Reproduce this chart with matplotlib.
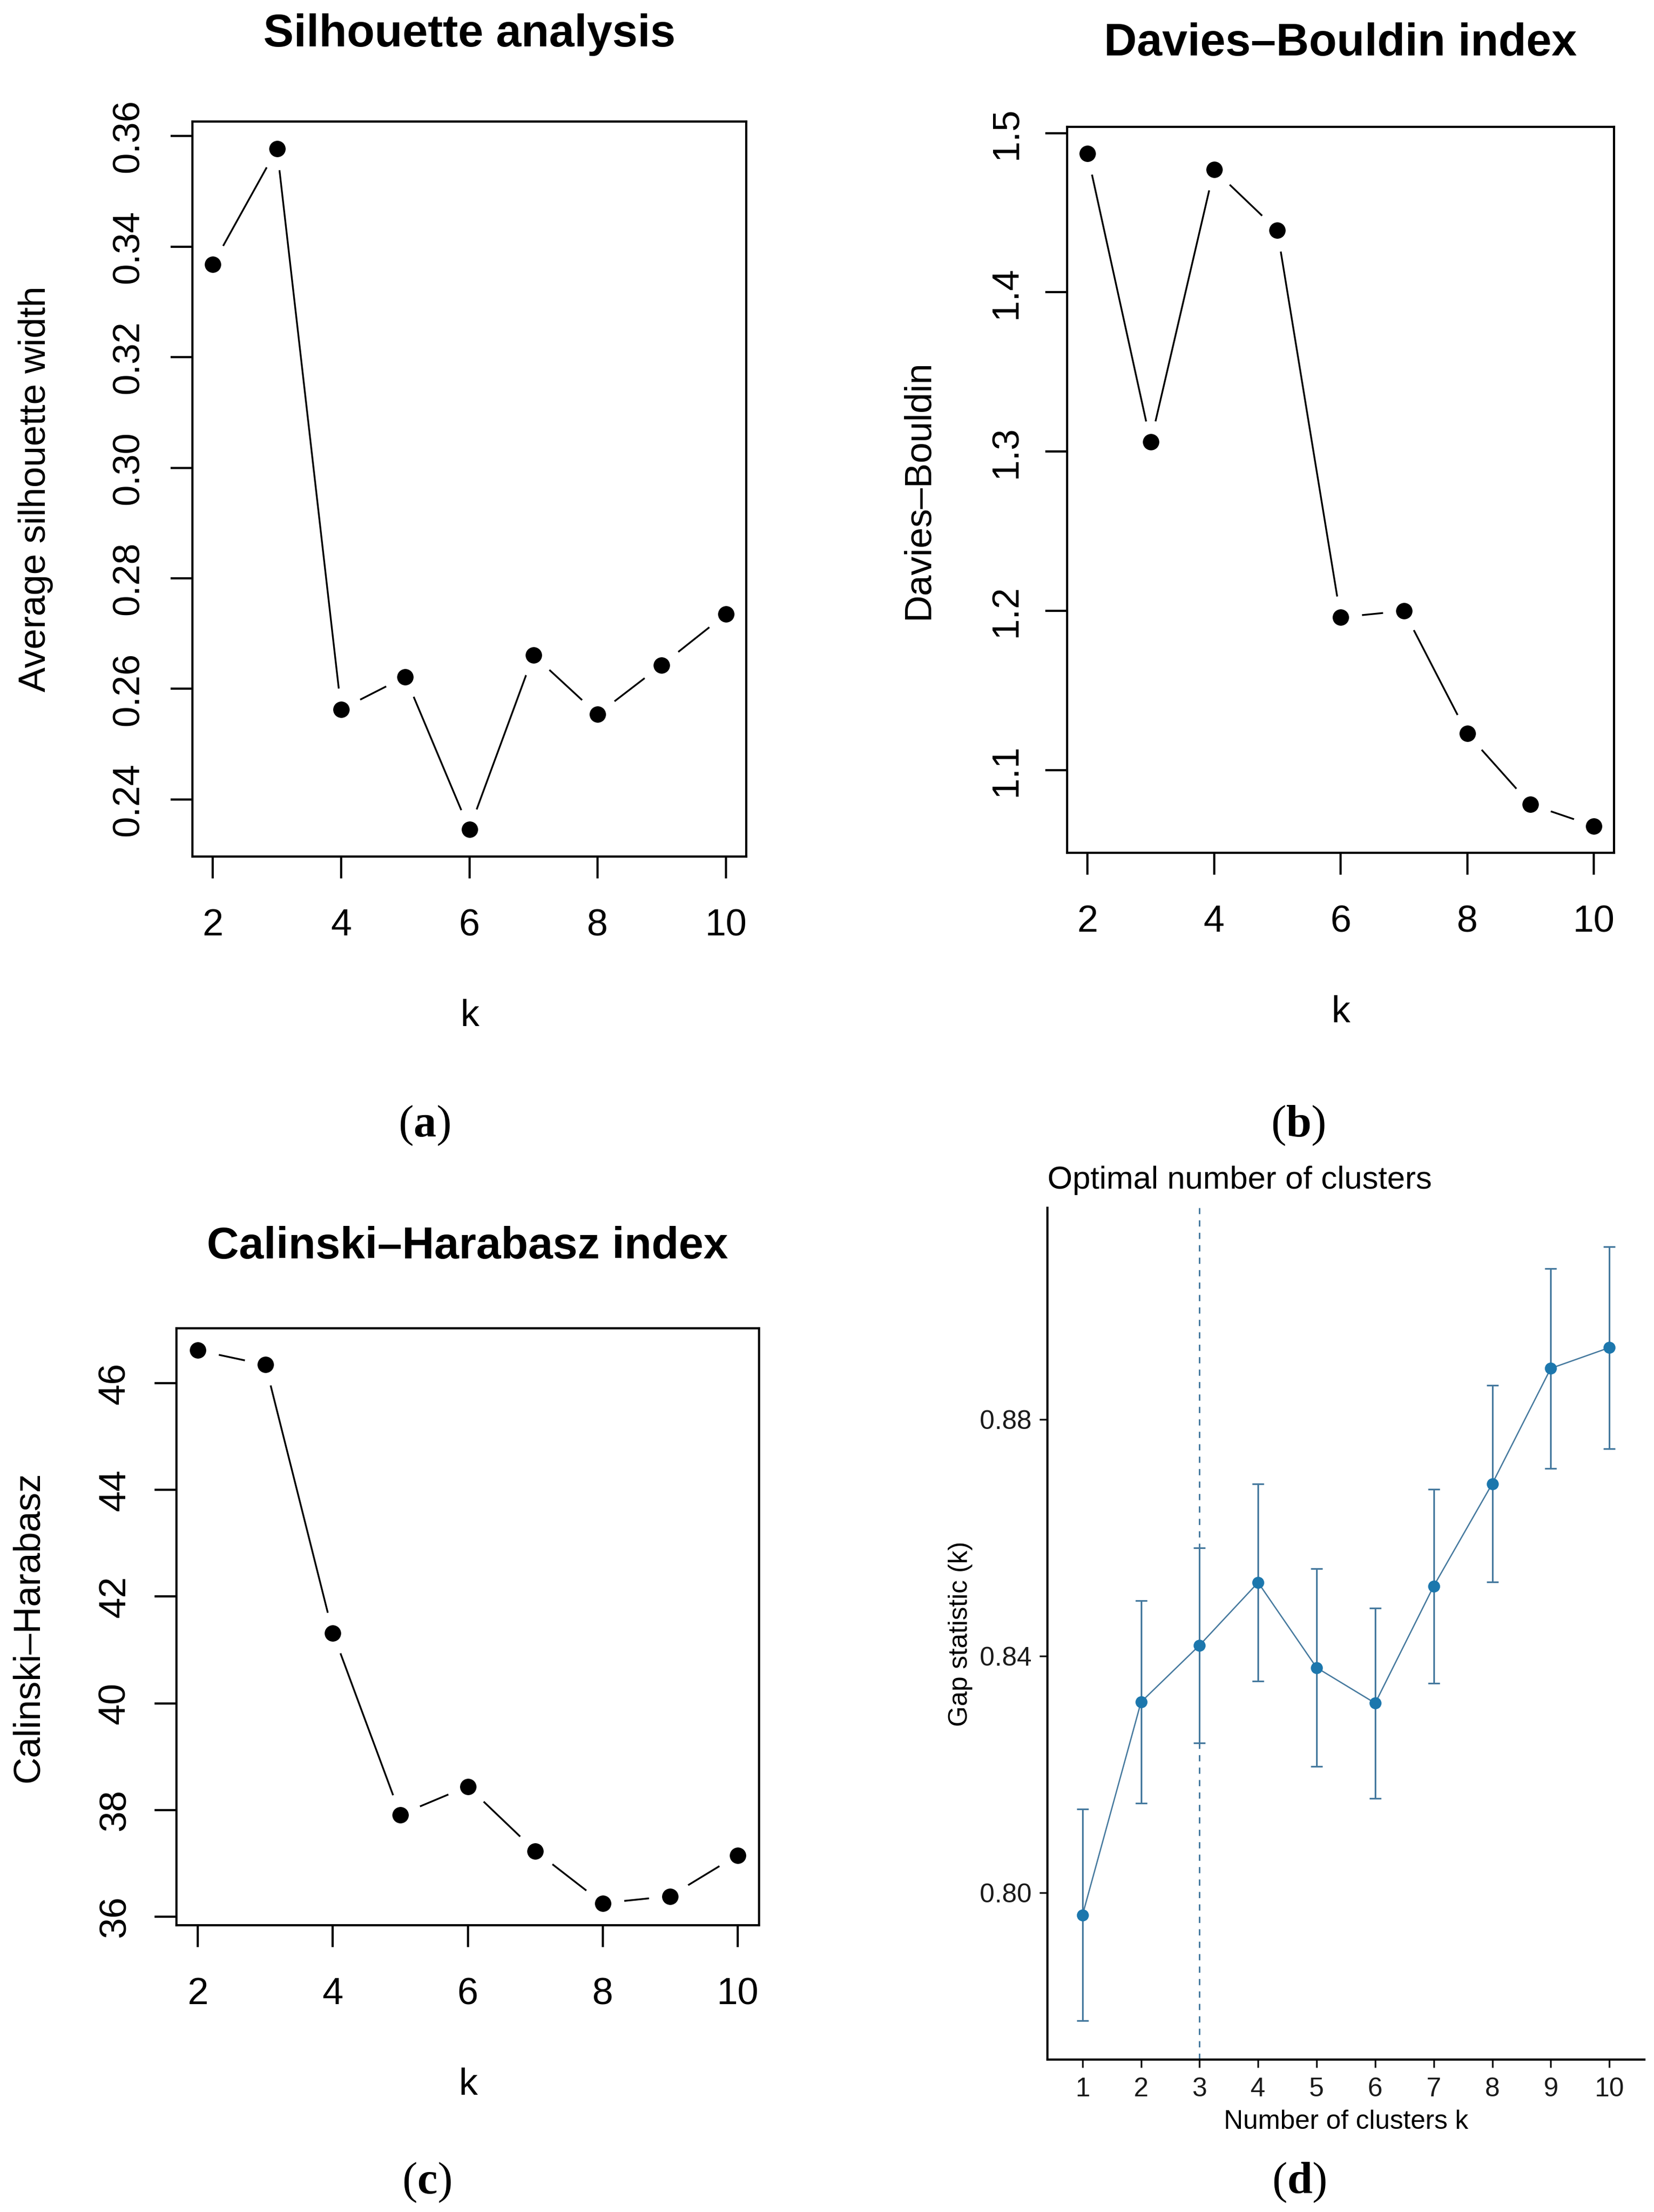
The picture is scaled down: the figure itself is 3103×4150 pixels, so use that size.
import matplotlib
matplotlib.use('Agg')
import matplotlib.pyplot as plt
from matplotlib.ticker import FormatStrFormatter

plt.rcParams['font.family'] = ['Liberation Sans', 'DejaVu Sans']
plt.rcParams['mathtext.fontset'] = 'custom'
plt.rcParams['mathtext.rm'] = 'Liberation Serif'
plt.rcParams['mathtext.bf'] = 'Liberation Serif:bold'

# data
k_values = [2, 3, 4, 5, 6, 7, 8, 9, 10]
silhouette = [0.3368, 0.3577, 0.2563, 0.2622, 0.2346, 0.2661, 0.2554, 0.2643, 0.2735]
davies_bouldin = [1.487, 1.306, 1.477, 1.439, 1.196, 1.200, 1.123, 1.0785, 1.065]
calinski = [46.62, 46.35, 41.32, 37.91, 38.44, 37.23, 36.25, 36.38, 37.15]

k_gap = [1, 2, 3, 4, 5, 6, 7, 8, 9, 10]
gap_stat = [0.7962, 0.8322, 0.8418, 0.8524, 0.8380, 0.8320, 0.8518, 0.8691, 0.8886, 0.8921]
gap_se = [0.0179, 0.0171, 0.0165, 0.0167, 0.0167, 0.0161, 0.0164, 0.0166, 0.0169, 0.0171]
k_optimal = 3

W, H = 3103, 4150
fig = plt.figure(figsize=(W / 300, H / 300), dpi=300)


def rect(left, right, top, bottom):
    return [left / W, 1 - bottom / H, (right - left) / W, (bottom - top) / H]


def r_panel(box, x, y, yticks, yfmt, title, title_y, title_size, ylabel, ypad, ylabelpad):
    ax = fig.add_axes(rect(*box))
    # type="b" look: black dot with white halo that cuts the line
    ax.plot(x, y, color='black', lw=0.8, marker='o', ms=13.3,
            mfc='black', mec='white', mew=5.9)
    dx = (max(x) - min(x)) * 0.04
    dy = (max(y) - min(y)) * 0.04
    ax.set_xlim(min(x) - dx, max(x) + dx)
    ax.set_ylim(min(y) - dy, max(y) + dy)
    ax.set_xticks([2, 4, 6, 8, 10])
    ax.set_yticks(yticks)
    ax.yaxis.set_major_formatter(FormatStrFormatter(yfmt))
    ax.tick_params(length=9.8, width=1.0, labelsize=17, direction='out')
    ax.tick_params(axis='x', pad=13.5)
    ax.tick_params(axis='y', pad=ypad)
    for lab in ax.get_yticklabels():
        lab.set_rotation(90)
        lab.set_va('center')
    for s in ax.spines.values():
        s.set_linewidth(1.0)
    ax.set_xlabel('k', fontsize=17, labelpad=25)
    ax.set_ylabel(ylabel, fontsize=16.8, labelpad=ylabelpad)
    xc = (box[0] + box[1]) / 2
    fig.text(xc / W, 1 - title_y / H, title, fontsize=title_size,
             fontweight='bold', ha='center', va='baseline')
    return ax


r_panel((361, 1400, 228, 1607), k_values, silhouette,
        [0.24, 0.26, 0.28, 0.30, 0.32, 0.34, 0.36], '%.2f',
        'Silhouette analysis', 87, 20.5, 'Average silhouette width', 11, 26)
r_panel((2002, 3028, 238, 1600), k_values, davies_bouldin,
        [1.1, 1.2, 1.3, 1.4, 1.5], '%.1f',
        'Davies\u2013Bouldin index', 104, 20.5, 'Davies\u2013Bouldin', 9.4, 23.8)
r_panel((331, 1424, 2492, 3612), k_values, calinski,
        [36, 38, 40, 42, 44, 46], '%d',
        'Calinski\u2013Harabasz index', 2361, 20, 'Calinski\u2013Harabasz', 9.8, 23)

# gap statistic panel (ggplot style)
line_c = '#45799E'
pt_c = '#1C77AD'
ax = fig.add_axes(rect(1965, 3085, 2266, 3864))
ax.errorbar(k_gap, gap_stat, yerr=gap_se, color=line_c, lw=0.6,
            ecolor=line_c, elinewidth=0.75, capsize=2.6, capthick=0.75,
            marker='o', ms=4.4, mfc=pt_c, mec=pt_c)
ax.axvline(k_optimal, color=line_c, lw=0.7, ls=(0, (4, 4)))
lo = min(g - s for g, s in zip(gap_stat, gap_se))
hi = max(g + s for g, s in zip(gap_stat, gap_se))
ax.set_ylim(lo - 0.05 * (hi - lo), hi + 0.05 * (hi - lo))
ax.set_xlim(0.4, 10.6)
ax.set_xticks(k_gap)
ax.set_yticks([0.80, 0.84, 0.88])
ax.yaxis.set_major_formatter(FormatStrFormatter('%.2f'))
ax.spines['top'].set_visible(False)
ax.spines['right'].set_visible(False)
for s in ('left', 'bottom'):
    ax.spines[s].set_linewidth(1.0)
ax.tick_params(length=3.6, width=0.8, labelsize=12, colors='#1a1a1a')
ax.tick_params(axis='y', pad=3.6)
ax.tick_params(axis='x', pad=4.3)
ax.set_xlabel('Number of clusters k', fontsize=12, labelpad=3.6)
ax.set_ylabel('Gap statistic (k)', fontsize=12, labelpad=3)
fig.text(1965 / W, 1 - 2230 / H, 'Optimal number of clusters', fontsize=14.5,
         ha='left', va='baseline')

# panel letters
for letter, (xp, yp) in zip('abcd', [(796, 2112), (2435, 2112), (800, 4095), (2437, 4095)]):
    fig.text(xp / W, 1 - yp / H, r'($\mathbf{%s}$)' % letter, fontsize=20.5,
             family='Liberation Serif', ha='center', va='center')

fig.savefig('out.png', dpi=300, facecolor='white')
